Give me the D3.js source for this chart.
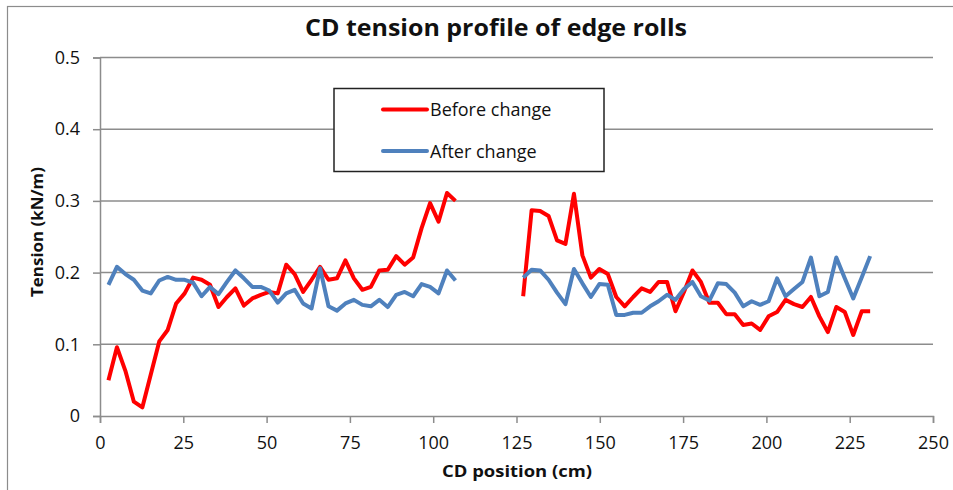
<!DOCTYPE html>
<html>
<head>
<meta charset="utf-8">
<script src="https://cdn.jsdelivr.net/npm/d3@7"></script>
<style>
  body { margin: 0; background: #fff; }
  text { font-family: "Open Sans", "DejaVu Sans", sans-serif; fill: #111; }
</style>
</head>
<body>
<div id="chart"></div>
<script>
// CD positions (cm), a null entry marks the gap between the two edge rolls
const positions = [
  2.54, 5.08, 7.62, 10.16, 12.7, 15.24, 17.78, 20.32, 22.86, 25.4,
  27.94, 30.48, 33.02, 35.56, 38.1, 40.64, 43.18, 45.72, 48.26, 50.8,
  53.34, 55.88, 58.42, 60.96, 63.5, 66.04, 68.58, 71.12, 73.66, 76.2,
  78.74, 81.28, 83.82, 86.36, 88.9, 91.44, 93.98, 96.52, 99.06, 101.6,
  104.14, 106.68,
  116.84,
  127, 129.54, 132.08, 134.62, 137.16, 139.7, 142.24, 144.78, 147.32, 149.86,
  152.4, 154.94, 157.48, 160.02, 162.56, 165.1, 167.64, 170.18, 172.72, 175.26,
  177.8, 180.34, 182.88, 185.42, 187.96, 190.5, 193.04, 195.58, 198.12, 200.66,
  203.2, 205.74, 208.28, 210.82, 213.36, 215.9, 218.44, 220.98, 223.52, 226.06,
  228.6, 231.14
];

// Tension (kN/m) before the change
const beforeChange = [
  0.050, 0.096, 0.063, 0.020, 0.012, 0.058, 0.104, 0.120, 0.157, 0.171,
  0.193, 0.190, 0.183, 0.152, 0.166, 0.178, 0.154, 0.164, 0.169, 0.173,
  0.171, 0.211, 0.198, 0.173, 0.190, 0.208, 0.190, 0.192, 0.217, 0.192,
  0.176, 0.180, 0.203, 0.204, 0.223, 0.211, 0.221, 0.262, 0.297, 0.271,
  0.311, 0.300,
  null,
  0.167, 0.287, 0.286, 0.279, 0.245, 0.240, 0.310, 0.224, 0.193, 0.205,
  0.198, 0.166, 0.153, 0.166, 0.178, 0.173, 0.187, 0.187, 0.146, 0.173,
  0.203, 0.187, 0.158, 0.158, 0.142, 0.142, 0.127, 0.129, 0.120, 0.139,
  0.145, 0.162, 0.156, 0.152, 0.166, 0.139, 0.117, 0.152, 0.145, 0.113,
  0.146, 0.146
];

// Tension (kN/m) after the change
const afterChange = [
  0.183, 0.208, 0.198, 0.190, 0.175, 0.171, 0.189, 0.194, 0.190, 0.190,
  0.186, 0.167, 0.180, 0.170, 0.187, 0.203, 0.192, 0.180, 0.180, 0.175,
  0.158, 0.171, 0.176, 0.157, 0.150, 0.206, 0.153, 0.147, 0.157, 0.162,
  0.155, 0.153, 0.162, 0.152, 0.169, 0.173, 0.167, 0.184, 0.180, 0.171,
  0.203, 0.189,
  null,
  0.193, 0.204, 0.203, 0.190, 0.172, 0.156, 0.205, 0.185, 0.166, 0.184,
  0.183, 0.141, 0.141, 0.144, 0.144, 0.153, 0.160, 0.169, 0.162, 0.177,
  0.187, 0.167, 0.161, 0.185, 0.184, 0.172, 0.153, 0.160, 0.155, 0.160,
  0.192, 0.167, 0.177, 0.187, 0.221, 0.167, 0.173, 0.221, 0.192, 0.164,
  0.193, 0.223
];

const xTicks = [0, 25, 50, 75, 100, 125, 150, 175, 200, 225, 250];
const yTicks = [0, 0.1, 0.2, 0.3, 0.4, 0.5];
const seriesNames = ["Before change", "After change"];
const seriesColors = ["#FF0000", "#4F81BD"];

const W = 953, H = 490;
const plot = { left: 100, right: 933, top: 57.5, bottom: 416 };

const svg = d3.select("#chart").append("svg")
  .attr("width", W).attr("height", H);

// outer chart frame (extends past the window on right and bottom)
svg.append("rect")
  .attr("x", 7.5).attr("y", 6.5)
  .attr("width", W + 20).attr("height", H + 20)
  .attr("fill", "none").attr("stroke", "#8c8c8c").attr("stroke-width", 1.2);

const x = d3.scaleLinear().domain([0, 250]).range([plot.left, plot.right]);
const y = d3.scaleLinear().domain([0, 0.5]).range([plot.bottom, plot.top]);

// horizontal gridlines
svg.append("g")
  .selectAll("line")
  .data(yTicks.filter(d => d > 0))
  .join("line")
  .attr("x1", plot.left).attr("x2", plot.right)
  .attr("y1", d => y(d)).attr("y2", d => y(d))
  .attr("stroke", "#8c8c8c").attr("stroke-width", 1.5);

// y axis
const yAxis = svg.append("g")
  .attr("transform", `translate(${plot.left},0)`)
  .call(d3.axisLeft(y).tickValues(yTicks).tickSize(7).tickPadding(13)
    .tickFormat(d => d === 0 ? "0" : d3.format(".1f")(d)));
yAxis.select(".domain").attr("stroke", "#8c8c8c").attr("stroke-width", 1.5);
yAxis.selectAll(".tick line").attr("stroke", "#8c8c8c").attr("stroke-width", 1.5);
yAxis.selectAll(".tick text")
  .style("font-size", "18px").style("font-family", "'Open Sans', sans-serif")
  .attr("fill", "#111");

// x axis
const xAxis = svg.append("g")
  .attr("transform", `translate(0,${plot.bottom})`)
  .call(d3.axisBottom(x).tickValues(xTicks).tickSize(7).tickPadding(13));
xAxis.select(".domain").attr("stroke", "#8c8c8c").attr("stroke-width", 1.5);
xAxis.selectAll(".tick line").attr("stroke", "#8c8c8c").attr("stroke-width", 1.5);
xAxis.selectAll(".tick text")
  .style("font-size", "18px").style("font-family", "'Open Sans', sans-serif")
  .attr("fill", "#111");

// data lines
const rows = positions.map((p, i) => ({ pos: p, before: beforeChange[i], after: afterChange[i] }));
const keys = ["before", "after"];

keys.forEach((k, i) => {
  const line = d3.line()
    .defined(d => d[k] !== null)
    .x(d => x(d.pos))
    .y(d => y(d[k]));
  svg.append("path")
    .datum(rows)
    .attr("fill", "none")
    .attr("stroke", seriesColors[i])
    .attr("stroke-width", 4)
    .attr("stroke-linejoin", "round")
    .attr("d", line);
});

// legend
const legend = svg.append("g");
legend.append("rect")
  .attr("x", 334).attr("y", 88.5).attr("width", 270).attr("height", 83)
  .attr("fill", "#fff").attr("stroke", "#222").attr("stroke-width", 1.5);
seriesNames.forEach((name, i) => {
  const ly = 109.5 + i * 41.5;
  legend.append("line")
    .attr("x1", 383).attr("x2", 427).attr("y1", ly).attr("y2", ly)
    .attr("stroke", seriesColors[i]).attr("stroke-width", 4)
    .attr("stroke-linecap", "round");
  legend.append("text")
    .attr("x", 430).attr("y", ly + 6.5)
    .style("font-size", "18px")
    .text(name);
});

// title
svg.append("text")
  .attr("x", 496).attr("y", 36)
  .attr("text-anchor", "middle")
  .attr("textLength", 382).attr("lengthAdjust", "spacingAndGlyphs")
  .style("font-size", "23px").style("font-weight", "bold")
  .text("CD tension profile of edge rolls");

// axis titles
svg.append("text")
  .attr("x", 517).attr("y", 477)
  .attr("text-anchor", "middle")
  .attr("textLength", 150).attr("lengthAdjust", "spacingAndGlyphs")
  .style("font-size", "16px").style("font-weight", "bold")
  .text("CD position  (cm)");

svg.append("text")
  .attr("transform", "translate(43,232) rotate(-90)")
  .attr("text-anchor", "middle")
  .attr("textLength", 130).attr("lengthAdjust", "spacingAndGlyphs")
  .style("font-size", "16px").style("font-weight", "bold")
  .text("Tension (kN/m)");
</script>
</body>
</html>
